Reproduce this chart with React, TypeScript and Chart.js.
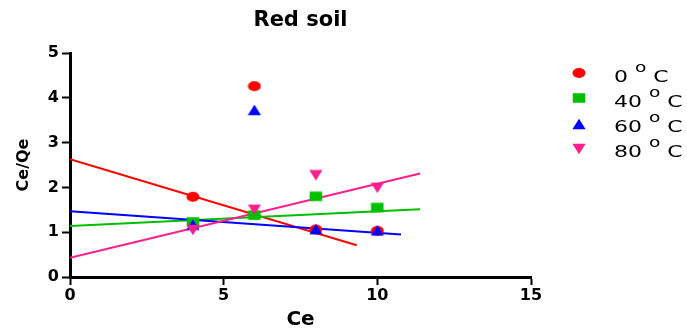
import React, { useEffect, useRef } from 'react';
import { Chart, registerables } from 'chart.js';

Chart.register(...registerables);

// ---- data ----
const ceValues = [4, 6, 8, 10];
const series0C = [1.79, 4.26, 1.06, 1.03];
const series40C = [1.23, 1.38, 1.8, 1.55];
const series60C = [1.17, 3.73, 1.07, 1.04];
const series80C = [1.05, 1.5, 2.27, 1.99];

const fit0CX = [0, 9.33];
const fit0CY = [2.63, 0.71];
const fit40CX = [0, 11.39];
const fit40CY = [1.14, 1.51];
const fit60CX = [0, 10.77];
const fit60CY = [1.47, 0.95];
const fit80CX = [0, 11.39];
const fit80CY = [0.43, 2.31];

const seriesLabels = ['0', '40', '60', '80'];
const titleText = 'Red soil';
const xTitle = 'Ce';
const yTitle = 'Ce/Qe';
const xMin = 0;
const xMax = 15;
const xStep = 5;
const yMin = 0;
const yMax = 5;
const yStep = 1;

const RED = '#ff0000';
const GREEN = '#00bf00';
const BLUE = '#0000ff';
const PINK = '#ff1e8c';
const FONT = 'DejaVu Sans';

type Shape = 'circle' | 'square' | 'up' | 'down';

function traceShape(ctx: CanvasRenderingContext2D, shape: Shape) {
  ctx.beginPath();
  if (shape === 'circle') {
    ctx.ellipse(7, 6, 6.5, 5, 0, 0, Math.PI * 2);
  } else if (shape === 'square') {
    ctx.rect(0.75, 1.25, 12.5, 9.5);
  } else if (shape === 'up') {
    ctx.moveTo(7, 0.8);
    ctx.lineTo(13.6, 11.2);
    ctx.lineTo(0.4, 11.2);
    ctx.closePath();
  } else {
    ctx.moveTo(0.4, 0.8);
    ctx.lineTo(13.6, 0.8);
    ctx.lineTo(7, 11.2);
    ctx.closePath();
  }
}

function makeMarker(shape: Shape, color: string): HTMLCanvasElement {
  const c = document.createElement('canvas');
  c.width = 14;
  c.height = 12;
  const ctx = c.getContext('2d')!;
  ctx.fillStyle = color;
  traceShape(ctx, shape);
  ctx.fill();
  return c;
}

function MarkerSvg({ shape, color }: { shape: Shape; color: string }) {
  let el: React.ReactNode;
  if (shape === 'circle') el = <ellipse cx={7} cy={6} rx={6.5} ry={5} fill={color} />;
  else if (shape === 'square') el = <rect x={0.75} y={1.25} width={12.5} height={9.5} fill={color} />;
  else if (shape === 'up') el = <polygon points="7,0.8 13.6,11.2 0.4,11.2" fill={color} />;
  else el = <polygon points="0.4,0.8 13.6,0.8 7,11.2" fill={color} />;
  return (
    <svg width={14} height={12} style={{ display: 'block' }}>
      {el}
    </svg>
  );
}

const legendShapes: Shape[] = ['circle', 'square', 'up', 'down'];
const legendColors = [RED, GREEN, BLUE, PINK];

export default function App() {
  const canvasRef = useRef<HTMLCanvasElement | null>(null);

  useEffect(() => {
    if (!canvasRef.current) return;
    const pts = (ys: number[]) => ceValues.map((x, i) => ({ x, y: ys[i] }));
    const line = (xs: number[], ys: number[]) => xs.map((x, i) => ({ x, y: ys[i] }));

    const pointSet = (label: string, ys: number[], shape: Shape, color: string, order: number) => ({
      label,
      data: pts(ys),
      pointStyle: makeMarker(shape, color) as any,
      pointRadius: 6,
      pointHoverRadius: 6,
      backgroundColor: color,
      borderColor: color,
      showLine: false,
      order,
    });
    const fitSet = (label: string, xs: number[], ys: number[], color: string, order: number) => ({
      label,
      data: line(xs, ys),
      showLine: true,
      pointRadius: 0,
      pointHoverRadius: 0,
      borderColor: color,
      borderWidth: 2,
      fill: false,
      order,
    });

    const axisCommon = {
      grid: {
        display: true,
        drawOnChartArea: false,
        drawTicks: true,
        tickLength: 8,
        tickWidth: 2,
        tickColor: '#000',
        color: '#000',
      },
      border: { display: true, color: '#000', width: 3 },
    };

    const chart = new Chart(canvasRef.current, {
      type: 'scatter',
      data: {
        datasets: [
          pointSet('0 ° C', series0C, 'circle', RED, 4),
          pointSet('40 ° C', series40C, 'square', GREEN, 3),
          pointSet('60 ° C', series60C, 'up', BLUE, 2),
          pointSet('80 ° C', series80C, 'down', PINK, 1),
          fitSet('fit 0', fit0CX, fit0CY, RED, 8),
          fitSet('fit 40', fit40CX, fit40CY, GREEN, 7),
          fitSet('fit 60', fit60CX, fit60CY, BLUE, 6),
          fitSet('fit 80', fit80CX, fit80CY, PINK, 5),
        ] as any,
      },
      options: {
        animation: false,
        responsive: false,
        devicePixelRatio: 1,
        layout: { padding: { left: 0, right: 156, top: 0, bottom: 0 } },
        plugins: {
          legend: { display: false },
          tooltip: { enabled: false },
          title: {
            display: true,
            text: titleText,
            color: '#000',
            fullSize: false,
            font: { family: FONT, size: 21, weight: 'bold', lineHeight: 1.2 },
            padding: { top: 8, bottom: 19.8 },
          },
        },
        scales: {
          x: {
            type: 'linear',
            min: xMin,
            max: xMax,
            ticks: {
              stepSize: xStep,
              color: '#000',
              padding: 1.5,
              maxRotation: 0,
              font: { family: FONT, size: 16, weight: 'bold' },
            },
            ...axisCommon,
            title: {
              display: true,
              text: xTitle,
              color: '#000',
              padding: 0,
              font: { family: FONT, size: 20, weight: 'bold', lineHeight: 0.85 },
            },
            afterFit: (s: any) => {
              s.height = 51;
            },
          },
          y: {
            type: 'linear',
            min: yMin,
            max: yMax,
            ticks: {
              stepSize: yStep,
              color: '#000',
              padding: 3,
              font: { family: FONT, size: 16, weight: 'bold' },
            },
            ...axisCommon,
            title: {
              display: true,
              text: yTitle,
              color: '#000',
              padding: { top: 14, bottom: 0 },
              font: { family: FONT, size: 16, weight: 'bold', lineHeight: 1.2 },
            },
            afterFit: (s: any) => {
              s.width = 70;
            },
          },
        } as any,
      },
    });
    return () => chart.destroy();
  }, []);

  return (
    <div style={{ position: 'absolute', left: 0, top: 0, width: 687, height: 328, background: '#fff' }}>
      <canvas ref={canvasRef} width={687} height={328} style={{ display: 'block', width: 687, height: 328 }} />
      {seriesLabels.map((lab, i) => (
        <React.Fragment key={lab}>
          <div style={{ position: 'absolute', left: 572, top: 72.9 + 25.4 * i - 6 }}>
            <MarkerSvg shape={legendShapes[i]} color={legendColors[i]} />
          </div>
          <div
            style={{
              position: 'absolute',
              left: 614,
              top: 67.2 + 25 * i,
              fontFamily: FONT,
              fontSize: 16.5,
              lineHeight: '20px',
              color: '#000',
              whiteSpace: 'nowrap',
              transform: 'scaleX(1.33)',
              transformOrigin: '0 0',
            }}
          >
            {lab}{' '}
            <span style={{ fontSize: 14, position: 'relative', top: -10, lineHeight: 1 }}>o</span>
            {' '}C
          </div>
        </React.Fragment>
      ))}
    </div>
  );
}
